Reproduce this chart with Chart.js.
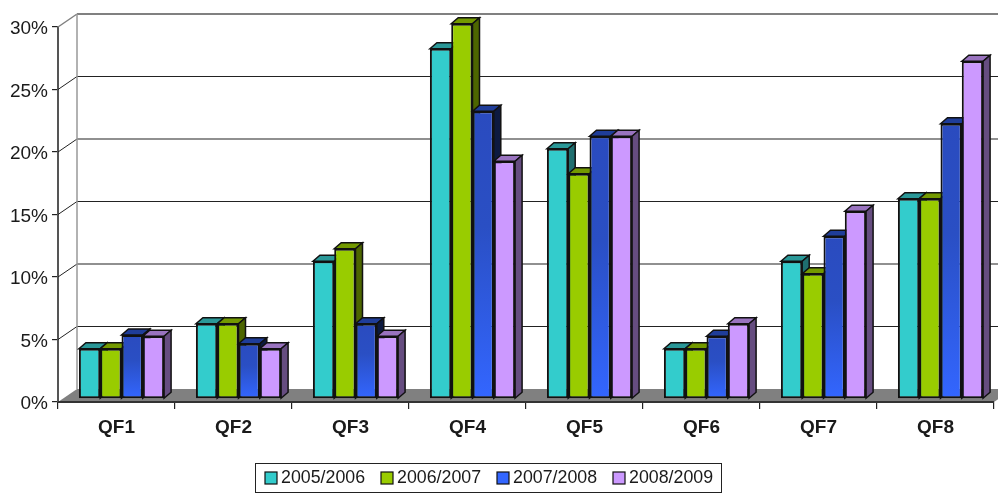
<!DOCTYPE html>
<html><head><meta charset="utf-8">
<style>html,body{margin:0;padding:0;background:#fff}#w{width:998px;height:493px;position:relative}</style>
<script src="https://cdn.jsdelivr.net/npm/chart.js@4"></script>
</head><body><div id="w"><canvas id="c" width="998" height="493"></canvas></div>
<script>
const categories=['QF1','QF2','QF3','QF4','QF5','QF6','QF7','QF8'];
const seriesNames=['2005/2006','2006/2007','2007/2008','2008/2009'];
const s2005=[4,6,11,28,20,4,11,16];
const s2006=[4,6,12,30,18,4,10,16];
const s2007=[5.1,4.4,6,23,21,5,13,22];
const s2008=[5,4,5,19,21,6,15,27];
const yTicks=[0,5,10,15,20,25,30];
const frontColors=['#33CCCC','#99CC00','#3366FF','#CC99FF'];
const sideColors=['#1F6F6F','#4D6600','#0D1A40','#664D80'];
const topColors=['#2A9898','#739900','#1F3D99','#9973BF'];
const DEPTH_X=19,DEPTH_Y=-13,BAR_DX=5,BAR_DY=-3.2,SIDE_X=7,SIDE_Y=-6;
function poly(ctx,pts,fill,stroke,lw){ctx.beginPath();pts.forEach((p,i)=>i?ctx.lineTo(p[0],p[1]):ctx.moveTo(p[0],p[1]));ctx.closePath();if(fill){ctx.fillStyle=fill;ctx.fill();}if(stroke){ctx.strokeStyle=stroke;ctx.lineWidth=lw;ctx.stroke();}}
function line(ctx,a,b,c,d,col,lw){ctx.beginPath();ctx.moveTo(a,b);ctx.lineTo(c,d);ctx.strokeStyle=col;ctx.lineWidth=lw;ctx.stroke();}
const walls={id:'walls',
beforeDraw(ch){
  ch.scales.y.getLabelItems(ch.chartArea).forEach(it=>{it.textOffset=2;});
},
beforeDatasetsDraw(ch){
  const ctx=ch.ctx,{left,right,top,bottom}=ch.chartArea,y=ch.scales.y;
  ctx.save();
  yTicks.forEach(t=>{const p=y.getPixelForValue(t);
    if(t>0){const isTop=t===yTicks[yTicks.length-1];
      line(ctx,left+DEPTH_X,p+DEPTH_Y,ch.width,p+DEPTH_Y,isTop?'#808080':'#222',isTop?2:1.2);
      line(ctx,left,p,left+DEPTH_X,p+DEPTH_Y,isTop?'#808080':'#222',isTop?1.5:1);}
  });
  line(ctx,left+DEPTH_X,top+DEPTH_Y,left+DEPTH_X,bottom+DEPTH_Y,'#999',1.5);
  poly(ctx,[[left,bottom],[left+DEPTH_X,bottom+DEPTH_Y],[right+DEPTH_X,bottom+DEPTH_Y],[right,bottom]],'#808080');
  line(ctx,left,bottom,right,bottom,'#333',2);
  ctx.restore();
},
beforeDatasetDraw(){return false;},
afterDatasetsDraw(ch){
  const ctx=ch.ctx;
  seriesNames.forEach((_,i)=>{
    const meta=ch.getDatasetMeta(i);
    ctx.save();ctx.translate(BAR_DX,BAR_DY);
    meta.data.forEach(el=>{
      const l=el.x-el.width/2,r=el.x+el.width/2,t=el.y,b=el.base;
      poly(ctx,[[l,t],[l+SIDE_X,t+SIDE_Y],[r+SIDE_X,t+SIDE_Y],[r,t]],topColors[i],'#111',1.5);
      poly(ctx,[[r,t],[r+SIDE_X,t+SIDE_Y],[r+SIDE_X,b+SIDE_Y],[r,b]],sideColors[i],'#111',1.5);
    });
    meta.controller.draw();
    ctx.restore();
  });
},
afterDraw(ch){
  const ctx=ch.ctx;ctx.save();
  ctx.strokeStyle='#222';ctx.lineWidth=1;ctx.strokeRect(255.5,463.5,466,29);
  ctx.font='17.8px "Liberation Sans"';ctx.textBaseline='middle';ctx.textAlign='left';
  seriesNames.forEach((n,i)=>{const x=265+116*i;
    ctx.fillStyle=frontColors[i];ctx.fillRect(x,472,12,12);
    ctx.strokeStyle='#111';ctx.lineWidth=1.2;ctx.strokeRect(x,472,12,12);
    ctx.fillStyle='#1a1a1a';ctx.fillText(n,x+16,478.5);
  });
  ctx.restore();
}};
function fillFor(i){
  if(i!==2)return frontColors[i];
  return c=>{const a=c.chart.chartArea;if(!a||c.parsed===undefined)return frontColors[i];
    const y=c.chart.scales.y,top=y.getPixelForValue(c.parsed.y),base=y.getPixelForValue(0);
    const g=c.chart.ctx.createLinearGradient(0,top,0,base);
    g.addColorStop(0,'#2A4BBF');g.addColorStop(.4,'#2A4FC4');g.addColorStop(1,'#3366FF');return g;};
}
const allSeries=[s2005,s2006,s2007,s2008];
new Chart(document.getElementById('c'),{type:'bar',
 data:{labels:categories,datasets:allSeries.map((d,i)=>({label:seriesNames[i],data:d,clip:false,
   backgroundColor:fillFor(i),borderColor:'#111',borderWidth:2,borderSkipped:false,
   categoryPercentage:.728,barPercentage:1}))},
 plugins:[walls],
 options:{responsive:false,animation:false,devicePixelRatio:1,
  layout:{padding:{top:27,right:4,bottom:0,left:0}},
  plugins:{legend:{display:false},tooltip:{enabled:false},title:{display:false}},
  scales:{
   x:{grid:{offset:true,drawOnChartArea:false,color:'#222',tickLength:7,lineWidth:1.2},border:{display:false},
      ticks:{color:'#1a1a1a',font:{family:'"Liberation Sans"',size:19,weight:'bold'},padding:7,maxRotation:0},
      afterFit(s){s.height=91;}},
   y:{min:0,max:30,grid:{drawOnChartArea:false,color:'#222',tickLength:6,lineWidth:1.2},border:{color:'#555',width:2},
      ticks:{stepSize:5,color:'#1a1a1a',font:{family:'"Liberation Sans"',size:19},padding:4,callback:v=>v+'%'},
      afterFit(s){s.width=58;}}
  }}});
</script></body></html>
